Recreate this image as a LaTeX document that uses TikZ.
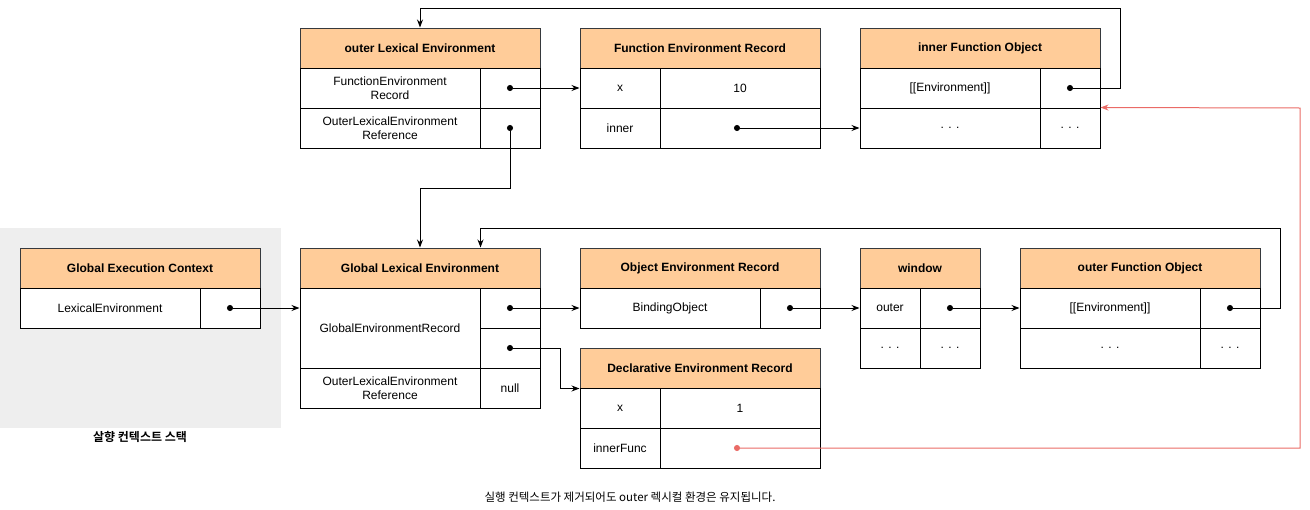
\documentclass[tikz,border=0pt]{standalone}
\usepackage{fontspec}
\setmainfont{Liberation Sans}
\newfontfamily\kr{Noto Sans CJK KR}[BoldFont={Noto Sans CJK KR Bold}]
\usetikzlibrary{arrows.meta}
\definecolor{hdrorange}{HTML}{FFCC99}
\definecolor{hdrline}{HTML}{36393D}
\definecolor{stackgray}{HTML}{EEEEEE}
\definecolor{keepred}{HTML}{EA6B66}
\begin{document}
\begin{tikzpicture}[x=1pt,y=-1pt,
  font=\fontsize{12}{14}\selectfont,
  hdr/.style={draw=hdrline,fill=hdrorange,line width=1pt,minimum width=240pt,minimum height=40pt,inner sep=0pt,font=\fontsize{12}{14}\selectfont\bfseries},
  cell/.style={draw,fill=white,line width=1pt,minimum width=60pt,minimum height=40pt,inner sep=0pt,align=center},
  ptr/.style={{Circle[length=6pt]}-{Stealth[length=8pt,width=6pt]},shorten <=-3pt,line width=1pt}]
\useasboundingbox (0,0) rectangle (1310,509);
% execution context stack
\node[fill=stackgray,minimum width=281pt,minimum height=200pt,inner sep=0pt] (stack) at (140.5,328) {};
\node[font=\kr\bfseries\fontsize{12}{14}\selectfont] (stacklbl) at (140,437) {살향 컨텍스트 스택};
\node[hdr] (gec) at (140,268) {Global Execution Context};
\node[cell,minimum width=180pt] (gecL) at (110,308) {LexicalEnvironment};
\node[cell] (gecP) at (230,308) {};
% global lexical environment
\node[hdr] (gle) at (420,268) {Global Lexical Environment};
\node[cell,minimum width=180pt,minimum height=80pt] (gleRec) at (390,328) {GlobalEnvironmentRecord};
\node[cell] (gleObj) at (510,308) {};
\node[cell] (gleDecl) at (510,348) {};
\node[cell,minimum width=180pt] (gleOut) at (390,388) {OuterLexicalEnvironment\\Reference};
\node[cell] (gleNull) at (510,388) {null};
% object environment record
\node[hdr] (oer) at (700,268) {Object Environment Record};
\node[cell,minimum width=180pt] (oerL) at (670,308) {BindingObject};
\node[cell] (oerP) at (790,308) {};
% declarative environment record
\node[hdr] (der) at (700,368) {Declarative Environment Record};
\node[cell,minimum width=80pt] (derX) at (620,408) {x};
\node[cell,minimum width=160pt] (derXv) at (740,408) {1};
\node[cell,minimum width=80pt] (derF) at (620,448) {innerFunc};
\node[cell,minimum width=160pt] (derFv) at (740,448) {};
% window
\node[hdr,minimum width=120pt] (win) at (920,268) {window};
\node[cell] (winOut) at (890,308) {outer};
\node[cell] (winOutP) at (950,308) {};
\node[cell] (winDots) at (890,348) {. . .};
\node[cell] (winDots2) at (950,348) {. . .};
% outer function object
\node[hdr] (ofo) at (1140,268) {outer Function Object};
\node[cell,minimum width=180pt] (ofoEnv) at (1110,308) {[[Environment]]};
\node[cell] (ofoEnvP) at (1230,308) {};
\node[cell,minimum width=180pt] (ofoDots) at (1110,348) {. . .};
\node[cell] (ofoDots2) at (1230,348) {. . .};
% outer lexical environment
\node[hdr] (ole) at (420,48) {outer Lexical Environment};
\node[cell,minimum width=180pt] (oleFer) at (390,88) {FunctionEnvironment\\Record};
\node[cell] (oleFerP) at (510,88) {};
\node[cell,minimum width=180pt] (oleOut) at (390,128) {OuterLexicalEnvironment\\Reference};
\node[cell] (oleOutP) at (510,128) {};
% function environment record
\node[hdr] (fer) at (700,48) {Function Environment Record};
\node[cell,minimum width=80pt] (ferX) at (620,88) {x};
\node[cell,minimum width=160pt] (ferXv) at (740,88) {10};
\node[cell,minimum width=80pt] (ferIn) at (620,128) {inner};
\node[cell,minimum width=160pt] (ferInv) at (740,128) {};
% inner function object
\node[hdr] (ifo) at (980,48) {inner Function Object};
\node[cell,minimum width=180pt] (ifoEnv) at (950,88) {[[Environment]]};
\node[cell] (ifoEnvP) at (1070,88) {};
\node[cell,minimum width=180pt] (ifoDots) at (950,128) {. . .};
\node[cell] (ifoDots2) at (1070,128) {. . .};
% caption
\node[font=\kr\fontsize{11.5}{14}\selectfont] (note) at (630,497) {실행 컨텍스트가 제거되어도 outer 렉시컬 환경은 유지됩니다.};
% route corners
\coordinate (topRoute) at (1120,8);
\coordinate (midRoute) at (1280,228);
\coordinate (redRoute) at (1300,108);
% pointers
\draw[ptr] (gecP.center) -- (gecP.center -| gleRec.west);
\draw[ptr] (gleObj.center) -- (gleObj.center -| oerL.west);
\draw[ptr] (gleDecl.center) -- ++(50,0) |- (der.south west);
\draw[ptr] (oleFerP.center) -- (oleFerP.center -| ferX.west);
\draw[ptr] (oleOutP.center) -- ++(0,60) -| (gle.north);
\draw[ptr] ([xshift=-3pt]ferInv.center) -- (ferInv.center -| ifoDots.west);
\draw[ptr] (ifoEnvP.center) -| (topRoute) -| (ole.north);
\draw[ptr] (oerP.center) -- (oerP.center -| winOut.west);
\draw[ptr] (winOutP.center) -- (winOutP.center -| ofoEnv.west);
\draw[ptr] (ofoEnvP.center) -| (midRoute) -| (gleRec.east |- gle.north);
\draw[ptr,keepred] ([xshift=-3pt]derFv.center) -| (redRoute) -- (ifoDots2.north east);
\end{tikzpicture}
\end{document}
